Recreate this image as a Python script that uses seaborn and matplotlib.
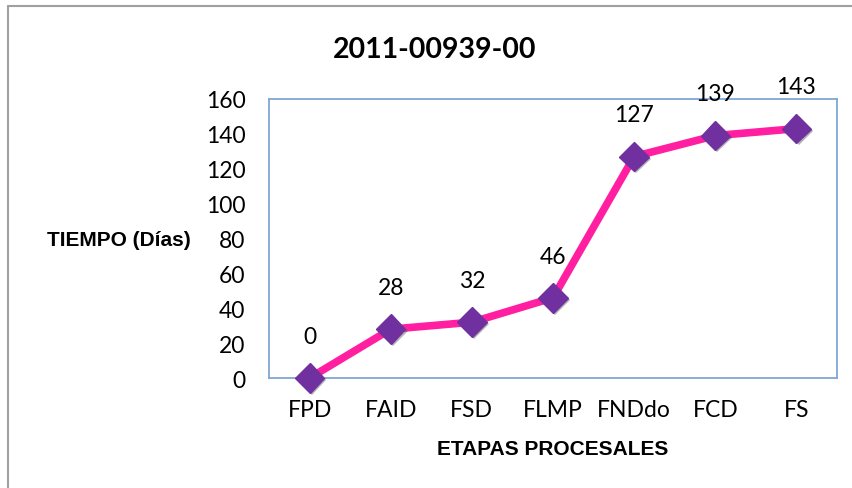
import matplotlib
matplotlib.use("Agg")
import matplotlib.pyplot as plt
import matplotlib.patheffects as pe
import seaborn as sns
import pandas as pd

etapas = ["FPD", "FAID", "FSD", "FLMP", "FNDdo", "FCD", "FS"]
dias = [0, 28, 32, 46, 127, 139, 143]
titulo = "2011-00939-00"
yticks = [0, 20, 40, 60, 80, 100, 120, 140, 160]

df = pd.DataFrame({"etapa": etapas, "dias": dias})
df["pos"] = range(len(df))

sns.set_theme(style="white")
plt.rcParams["font.family"] = ["Lato", "DejaVu Sans"]
plt.rcParams["text.color"] = "black"
plt.rcParams["xtick.color"] = "black"
plt.rcParams["ytick.color"] = "black"

fig = plt.figure(figsize=(8.52, 4.89), dpi=100)
ax = fig.add_axes([269 / 852, 1 - 379 / 489, 568 / 852, 279 / 489])

# line
sns.lineplot(data=df, x="pos", y="dias", ax=ax, color="#FF1FA0", linewidth=5.5,
             zorder=2, legend=False)
# diamond markers with soft shadow
ax.plot(df["pos"], df["dias"], linestyle="none", marker="D", markersize=15,
        color="#7030A0", zorder=3, clip_on=False,
        path_effects=[pe.SimplePatchShadow(offset=(1.5, -1.5), alpha=0.45,
                                           shadow_rgbFace="#555555"),
                      pe.Normal()])

for x, y in zip(df["pos"], df["dias"]):
    ax.annotate(str(y), (x, y), xytext=(0, 30), textcoords="offset points",
                ha="center", va="center", fontsize=16.5, color="black",
                annotation_clip=False)

ax.set_xlim(-0.5, len(etapas) - 0.5)
ax.set_ylim(0, 160)
ax.set_yticks(yticks)
ax.set_yticklabels([str(v) for v in yticks], fontsize=16.5)
ax.set_xticks(df["pos"])
ax.set_xticklabels(etapas, fontsize=16.5)
ax.tick_params(axis="both", length=0)
ax.tick_params(axis="x", pad=15)
ax.tick_params(axis="y", pad=17)
ax.set_xlabel("")
ax.set_ylabel("")
for s in ax.spines.values():
    s.set_visible(True)
    s.set_color("#7FA7D6")
    s.set_linewidth(1.3)

fig.text(435 / 852, 1 - 50 / 489, titulo, ha="center", va="center",
         fontsize=20.5, fontweight="bold")
fig.text(47 / 852, 1 - 241 / 489, "TIEMPO (Días)", ha="left", va="center",
         fontsize=15, fontweight="bold", family=["Liberation Sans", "DejaVu Sans"])
fig.text(553 / 852, 1 - 450 / 489, "ETAPAS PROCESALES", ha="center", va="center",
         fontsize=15, fontweight="bold", family=["Liberation Sans", "DejaVu Sans"])

# outer chart frame (only top and left edges visible)
fig.add_artist(plt.Line2D([8 / 852, 8 / 852], [0, 1 - 7 / 489], transform=fig.transFigure,
                          color="#A0A0A0", linewidth=1.5))
fig.add_artist(plt.Line2D([8 / 852, 1], [1 - 7 / 489, 1 - 7 / 489], transform=fig.transFigure,
                          color="#A0A0A0", linewidth=1.5))

fig.savefig("out.png", dpi=100)
